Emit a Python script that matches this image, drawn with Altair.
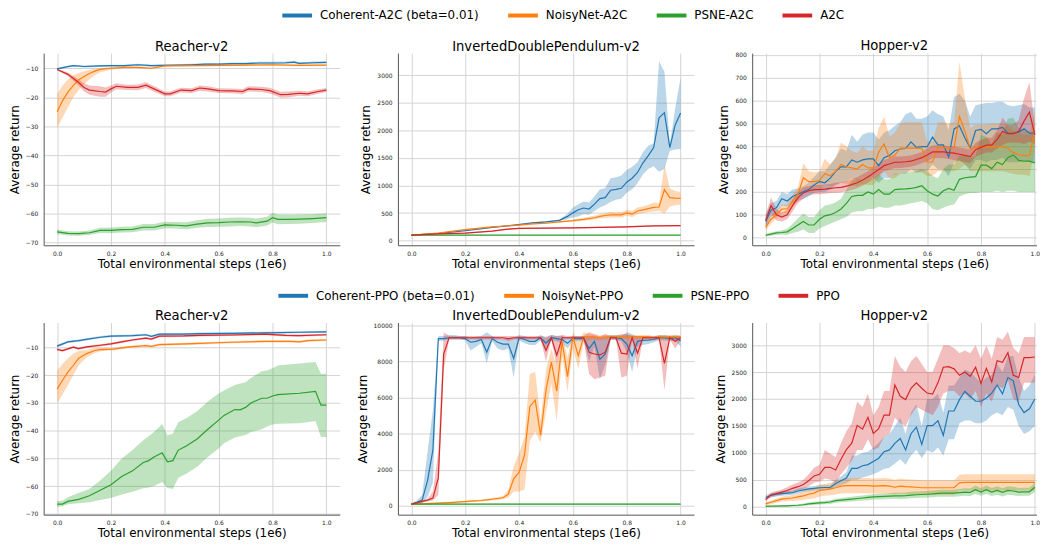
import altair as alt
import pandas as pd

COLORS = ["#1f77b4", "#ff7f0e", "#2ca02c", "#d62728"]
A2C_NAMES = ["Coherent-A2C (beta=0.01)", "NoisyNet-A2C", "PSNE-A2C", "A2C"]
PPO_NAMES = ["Coherent-PPO (beta=0.01)", "NoisyNet-PPO", "PSNE-PPO", "PPO"]
X_TICKS = [0.0, 0.2, 0.4, 0.6, 0.8, 1.0]
X_TITLE = "Total environmental steps (1e6)"
Y_TITLE = "Average return"
T51 = [round(0.02 * i, 2) for i in range(51)]

# ---------------- Row 1 : A2C ----------------
# Reacher-v2 (A2C)
RA_COH_T = [0, 0.03, 0.06, 0.1, 0.16, 0.2, 0.25, 0.3, 0.35, 0.4, 0.5, 0.55, 0.6, 0.65, 0.7, 0.75, 0.8, 0.85, 0.88, 0.9, 0.95, 1.0]
RA_COH_M = [-10.2, -9.6, -9.1, -9.4, -9.2, -9.1, -9.1, -8.8, -9.1, -9.0, -8.8, -8.6, -8.6, -8.4, -8.4, -8.2, -8.2, -8.1, -7.9, -8.3, -8.1, -8.0]
RA_COH_S = [0.3, 0.3, 0.3, 0.35, 0.35, 0.35, 0.35, 0.35, 0.35, 0.35, 0.35, 0.35, 0.35, 0.35, 0.35, 0.4, 0.4, 0.4, 0.4, 0.4, 0.4, 0.4]
RA_NOI_T = [0, 0.02, 0.04, 0.06, 0.08, 0.1, 0.12, 0.14, 0.16, 0.2, 0.25, 0.3, 0.35, 0.4, 0.5, 0.6, 0.7, 0.8, 0.9, 1.0]
RA_NOI_M = [-25.0, -21.2, -18.2, -16.0, -14.0, -12.8, -11.8, -11.0, -10.4, -10.0, -9.7, -9.7, -10.0, -9.2, -9.1, -9.0, -8.9, -8.8, -9.0, -8.9]
RA_NOI_LO = [-30.5, -27.0, -23.5, -20.0, -17.5, -15.5, -13.8, -12.4, -11.4, -10.5, -10.0, -10.0, -10.3, -9.5, -9.4, -9.3, -9.2, -9.1, -9.3, -9.2]
RA_NOI_HI = [-18.8, -16.0, -13.9, -12.4, -11.6, -11.0, -10.5, -10.2, -9.9, -9.6, -9.4, -9.4, -9.7, -8.9, -8.8, -8.7, -8.6, -8.5, -8.7, -8.6]
RA_PSN_T = [0, 0.04, 0.08, 0.12, 0.16, 0.2, 0.24, 0.28, 0.32, 0.36, 0.4, 0.44, 0.48, 0.52, 0.56, 0.6, 0.64, 0.68, 0.72, 0.74, 0.78, 0.8, 0.82, 0.86, 0.9, 0.95, 1.0]
RA_PSN_M = [-66.3, -66.8, -66.9, -66.6, -65.8, -65.8, -65.5, -65.4, -64.7, -64.7, -63.9, -64.0, -64.2, -63.6, -63.2, -63.1, -62.9, -62.8, -62.9, -63.2, -62.6, -61.4, -62.0, -62.0, -61.9, -61.7, -61.4]
RA_PSN_S = [0.8, 0.7, 0.7, 0.8, 0.9, 1.0, 1.0, 1.0, 1.1, 1.1, 1.1, 1.1, 1.2, 1.3, 1.4, 1.4, 1.5, 1.5, 1.5, 1.5, 1.5, 1.7, 1.7, 1.6, 1.6, 1.5, 1.5]
RA_BAS_T = [0, 0.04, 0.08, 0.1, 0.12, 0.16, 0.18, 0.2, 0.22, 0.26, 0.3, 0.33, 0.36, 0.4, 0.42, 0.46, 0.5, 0.53, 0.56, 0.6, 0.65, 0.69, 0.71, 0.76, 0.79, 0.83, 0.86, 0.9, 0.93, 0.97, 1.0]
RA_BAS_M = [-10.4, -12.1, -14.9, -16.6, -17.5, -18.0, -18.2, -17.1, -16.2, -16.6, -16.6, -15.8, -17.1, -18.8, -18.8, -17.5, -17.7, -16.8, -17.1, -17.7, -17.8, -18.0, -17.1, -17.3, -17.7, -19.1, -19.0, -18.6, -18.8, -18.0, -17.5]
RA_BAS_S = [0.3, 0.6, 1.0, 1.4, 1.6, 1.8, 1.6, 1.2, 1.0, 0.9, 1.0, 1.0, 1.0, 0.8, 0.8, 0.8, 0.8, 0.9, 0.9, 0.8, 0.8, 0.9, 0.9, 0.9, 1.0, 1.0, 1.0, 0.9, 0.8, 0.8, 0.7]

# InvertedDoublePendulum-v2 (A2C)
IA_COH_T = [0, 0.1, 0.2, 0.3, 0.4, 0.45, 0.5, 0.55, 0.58, 0.6, 0.62, 0.64, 0.66, 0.68, 0.7, 0.72, 0.74, 0.76, 0.78, 0.8, 0.82, 0.84, 0.86, 0.88, 0.9, 0.92, 0.94, 0.96, 0.98, 1.0]
IA_COH_M = [100, 130, 180, 240, 293, 322, 340, 369, 440, 504, 560, 592, 574, 662, 762, 779, 914, 930, 949, 1060, 1131, 1236, 1406, 1540, 1687, 2226, 2320, 1687, 2097, 2314]
IA_COH_LO = [90, 120, 170, 230, 280, 310, 328, 355, 395, 420, 440, 480, 470, 540, 600, 640, 700, 740, 760, 870, 930, 1040, 1200, 1300, 1350, 1250, 1300, 1630, 1650, 1660]
IA_COH_HI = [110, 140, 190, 250, 305, 335, 352, 385, 490, 600, 660, 710, 690, 800, 930, 950, 1130, 1150, 1180, 1280, 1340, 1420, 1600, 1720, 1760, 3250, 3060, 1750, 2400, 2950]
IA_NOI_T = [0, 0.1, 0.2, 0.3, 0.4, 0.45, 0.5, 0.55, 0.6, 0.64, 0.68, 0.7, 0.72, 0.74, 0.78, 0.8, 0.82, 0.84, 0.86, 0.88, 0.9, 0.92, 0.94, 0.96, 0.98, 1.0]
IA_NOI_M = [100, 140, 200, 250, 281, 305, 316, 340, 363, 387, 416, 440, 457, 469, 469, 504, 480, 539, 557, 580, 603, 610, 926, 779, 770, 767]
IA_NOI_LO = [90, 130, 190, 240, 270, 295, 305, 328, 345, 360, 385, 400, 410, 420, 420, 450, 430, 480, 500, 520, 530, 540, 490, 620, 640, 650]
IA_NOI_HI = [110, 150, 210, 260, 292, 315, 327, 352, 380, 415, 450, 480, 500, 520, 520, 560, 540, 600, 620, 650, 690, 680, 1370, 950, 900, 880]
IA_PSN_T = [0, 0.5, 1.0]
IA_PSN_M = [100, 100, 100]
IA_PSN_S = [6, 6, 6]
IA_BAS_T = [0, 0.1, 0.2, 0.3, 0.35, 0.4, 0.5, 0.6, 0.7, 0.8, 0.9, 1.0]
IA_BAS_M = [100, 125, 138, 175, 205, 222, 228, 232, 240, 252, 268, 272]
IA_BAS_S = [8, 10, 10, 12, 12, 12, 12, 12, 12, 12, 12, 12]

# Hopper-v2 (A2C), sampled every 0.02
HA_COH_M = [70, 120, 130, 170, 160, 180, 190, 200, 210, 230, 245, 240, 260, 290, 310, 310, 340, 330, 340, 345, 345, 315, 350, 360, 380, 388, 390, 419, 395, 398, 398, 440, 406, 406, 352, 476, 489, 437, 392, 469, 474, 455, 476, 476, 483, 457, 457, 462, 477, 457, 457]
HA_COH_LO = [40, 90, 105, 140, 135, 150, 160, 170, 180, 195, 200, 200, 210, 230, 240, 245, 260, 250, 260, 265, 260, 240, 260, 260, 275, 280, 280, 300, 285, 290, 290, 320, 300, 300, 270, 330, 340, 320, 300, 340, 340, 330, 340, 340, 350, 330, 330, 330, 340, 330, 330]
HA_COH_HI = [100, 150, 160, 200, 190, 210, 215, 225, 240, 265, 290, 290, 320, 350, 390, 380, 450, 420, 450, 460, 460, 430, 460, 470, 490, 505, 540, 550, 520, 520, 530, 558, 540, 530, 470, 615, 630, 600, 530, 580, 585, 590, 590, 595, 595, 580, 575, 580, 585, 570, 570]
HA_NOI_M = [45, 80, 100, 125, 125, 160, 190, 262, 245, 245, 250, 280, 270, 290, 320, 310, 305, 300, 320, 305, 305, 375, 410, 350, 360, 392, 392, 392, 392, 390, 331, 331, 395, 395, 390, 395, 530, 466, 388, 395, 396, 397, 398, 398, 398, 390, 372, 364, 360, 359, 469]
HA_NOI_LO = [30, 60, 85, 105, 105, 135, 160, 205, 200, 205, 210, 230, 225, 230, 240, 235, 230, 225, 235, 230, 230, 260, 290, 260, 260, 280, 285, 285, 285, 285, 270, 270, 290, 290, 290, 290, 300, 320, 290, 290, 290, 290, 290, 290, 290, 285, 280, 275, 275, 270, 380]
HA_NOI_HI = [60, 100, 115, 145, 145, 185, 220, 325, 290, 285, 290, 345, 320, 350, 415, 400, 380, 370, 400, 380, 380, 480, 530, 440, 460, 500, 505, 505, 505, 505, 420, 420, 505, 505, 500, 505, 770, 610, 480, 495, 495, 495, 500, 500, 500, 490, 470, 455, 450, 450, 560]
HA_PSN_M = [10, 15, 20, 22, 25, 40, 55, 70, 55, 55, 80, 95, 100, 110, 125, 150, 180, 185, 185, 200, 190, 210, 190, 190, 210, 212, 213, 215, 220, 227, 205, 190, 182, 205, 215, 207, 255, 262, 265, 267, 317, 317, 302, 330, 320, 350, 362, 338, 335, 335, 327]
HA_PSN_LO = [5, 8, 12, 12, 12, 20, 25, 35, 20, 20, 40, 50, 60, 70, 80, 90, 110, 115, 115, 125, 125, 135, 130, 130, 140, 140, 145, 150, 155, 160, 150, 125, 120, 130, 140, 145, 180, 190, 195, 195, 200, 200, 200, 205, 200, 205, 205, 200, 200, 200, 200]
HA_PSN_HI = [15, 22, 28, 32, 38, 60, 85, 105, 90, 90, 120, 140, 145, 155, 170, 210, 250, 255, 255, 270, 255, 280, 255, 255, 280, 280, 285, 285, 290, 300, 290, 270, 260, 300, 320, 320, 360, 360, 350, 360, 450, 440, 410, 460, 450, 520, 525, 480, 470, 465, 465]
HA_BAS_M = [75, 140, 100, 90, 100, 140, 175, 195, 205, 210, 210, 212, 215, 218, 220, 225, 232, 240, 252, 265, 282, 298, 315, 322, 330, 330, 332, 335, 342, 350, 362, 375, 376, 375, 372, 370, 365, 360, 355, 385, 395, 405, 405, 430, 465, 455, 455, 465, 510, 550, 450]
HA_BAS_S = [25, 35, 25, 20, 20, 25, 25, 25, 20, 20, 20, 20, 20, 22, 22, 22, 24, 24, 25, 25, 25, 25, 25, 25, 25, 25, 25, 25, 25, 25, 28, 28, 28, 28, 28, 30, 30, 30, 30, 30, 32, 32, 32, 40, 60, 40, 40, 50, 100, 130, 40]

# ---------------- Row 2 : PPO ----------------
# Reacher-v2 (PPO)
RP_COH_T = [0, 0.04, 0.08, 0.12, 0.16, 0.2, 0.28, 0.33, 0.35, 0.38, 0.47, 0.53, 0.65, 0.77, 0.9, 1.0]
RP_COH_M = [-9.5, -8.0, -7.5, -6.9, -6.3, -5.9, -5.7, -5.4, -6.0, -5.2, -5.2, -5.0, -4.9, -4.7, -4.5, -4.4]
RP_COH_S = [0.5, 0.4, 0.4, 0.4, 0.4, 0.4, 0.4, 0.4, 0.4, 0.4, 0.4, 0.4, 0.4, 0.4, 0.4, 0.4]
RP_NOI_T = [0, 0.02, 0.04, 0.06, 0.08, 0.11, 0.14, 0.16, 0.21, 0.26, 0.33, 0.35, 0.38, 0.48, 0.53, 0.59, 0.65, 0.77, 0.87, 0.9, 0.93, 1.0]
RP_NOI_M = [-25.0, -21.8, -18.9, -16.5, -13.9, -12.2, -11.1, -10.8, -10.6, -9.9, -9.3, -9.6, -9.0, -8.7, -8.5, -8.3, -8.1, -7.8, -7.8, -8.0, -7.5, -7.3]
RP_NOI_LO = [-30.0, -27.0, -23.6, -20.0, -16.5, -13.5, -12.0, -11.4, -11.0, -10.3, -9.7, -10.0, -9.4, -9.1, -8.9, -8.7, -8.5, -8.2, -8.2, -8.4, -7.9, -7.7]
RP_NOI_HI = [-18.3, -16.0, -13.9, -12.3, -11.3, -10.9, -10.3, -10.2, -10.2, -9.5, -8.9, -9.2, -8.6, -8.3, -8.1, -7.9, -7.7, -7.4, -7.4, -7.6, -7.1, -6.9]
RP_PSN_T = [0, 0.02, 0.04, 0.08, 0.12, 0.16, 0.2, 0.24, 0.28, 0.32, 0.34, 0.36, 0.39, 0.41, 0.43, 0.45, 0.48, 0.52, 0.56, 0.6, 0.62, 0.66, 0.68, 0.7, 0.72, 0.76, 0.78, 0.8, 0.82, 0.9, 0.96, 0.98, 1.0]
RP_PSN_M = [-66.5, -66.5, -65.5, -64.8, -63.5, -61.5, -59.5, -56.5, -54.5, -51.5, -50.8, -49.5, -48.0, -51.2, -50.8, -47.0, -45.5, -43.0, -39.5, -36.2, -34.5, -32.4, -32.5, -31.6, -30.0, -28.3, -28.3, -27.5, -27.0, -26.5, -25.8, -30.8, -30.8]
RP_PSN_LO = [-67.5, -67.3, -66.5, -66.2, -65.8, -65.0, -64.3, -63.0, -62.0, -60.8, -60.5, -60.0, -58.5, -60.7, -61.0, -57.0, -55.5, -53.0, -49.5, -46.4, -44.5, -42.5, -42.0, -41.6, -40.5, -39.5, -38.5, -37.8, -37.5, -37.3, -36.5, -42.3, -42.3]
RP_PSN_HI = [-65.5, -65.3, -64.0, -62.5, -61.0, -58.0, -54.5, -50.0, -47.0, -43.5, -42.0, -40.5, -37.6, -41.7, -41.0, -37.0, -35.5, -33.0, -29.5, -26.6, -25.5, -23.5, -23.0, -22.5, -21.0, -18.6, -18.3, -17.5, -16.5, -15.8, -15.2, -19.5, -19.5]
RP_BAS_T = [0, 0.02, 0.06, 0.08, 0.11, 0.16, 0.2, 0.25, 0.28, 0.33, 0.35, 0.38, 0.47, 0.53, 0.65, 0.77, 0.85, 0.9, 1.0]
RP_BAS_M = [-10.7, -11.1, -9.9, -10.4, -9.8, -9.2, -8.7, -7.8, -7.3, -6.6, -7.0, -5.9, -5.8, -5.6, -5.5, -5.2, -5.6, -5.7, -5.4]
RP_BAS_S = [0.4, 0.4, 0.4, 0.4, 0.4, 0.4, 0.4, 0.4, 0.4, 0.4, 0.4, 0.4, 0.4, 0.4, 0.4, 0.4, 0.4, 0.4, 0.4]

# InvertedDoublePendulum-v2 (PPO), sampled every 0.02
IP_COH_M = [100, 200, 320, 1400, 3100, 9250, 9250, 9300, 9300, 9300, 9250, 9050, 9100, 9200, 8500, 9250, 9050, 8950, 8950, 8150, 9300, 9200, 9100, 9100, 9300, 9000, 9300, 9250, 9200, 9000, 9250, 9250, 9250, 8700, 9100, 8100, 8400, 9350, 9300, 9250, 8950, 8300, 9100, 9150, 9170, 9200, 9300, 9300, 9250, 9300, 9140]
IP_COH_LO = [80, 120, 150, 500, 1300, 9100, 9150, 9200, 9200, 9200, 9150, 8600, 8800, 9000, 7900, 9100, 8700, 8600, 8700, 7100, 9150, 9000, 8900, 8900, 9150, 8700, 9150, 9100, 9000, 8700, 9100, 9100, 9100, 8000, 8800, 7000, 7800, 9200, 9150, 9100, 8500, 7400, 8800, 8900, 8950, 9050, 9150, 9150, 9100, 9150, 8800]
IP_COH_HI = [120, 300, 600, 3000, 5300, 9400, 9400, 9450, 9450, 9400, 9400, 9300, 9350, 9400, 9600, 9400, 9300, 9250, 9250, 9300, 9450, 9400, 9300, 9300, 9450, 9300, 9450, 9400, 9400, 9300, 9400, 9400, 9400, 9350, 9350, 9300, 9300, 9450, 9450, 9400, 9600, 9500, 9350, 9350, 9350, 9350, 9450, 9450, 9400, 9450, 9400]
IP_NOI_M = [100, 110, 120, 130, 140, 150, 165, 180, 200, 220, 240, 260, 280, 300, 330, 370, 410, 450, 650, 1500, 1850, 2800, 5500, 5850, 3900, 6400, 7950, 6350, 9100, 7150, 9350, 8300, 9350, 9350, 9350, 9300, 9350, 9350, 9350, 9350, 9350, 9350, 9350, 9350, 9350, 9300, 9350, 9350, 9350, 9350, 9350]
IP_NOI_LO = [60, 70, 80, 90, 100, 110, 120, 135, 150, 170, 190, 210, 230, 250, 270, 300, 330, 370, 450, 800, 800, 900, 3600, 4100, 3500, 5200, 6800, 4700, 8300, 6300, 8700, 7600, 9000, 9150, 9200, 9150, 9200, 9200, 9200, 9200, 9200, 9200, 9200, 9200, 9200, 9150, 9200, 9200, 9200, 9200, 9200]
IP_NOI_HI = [140, 150, 160, 170, 180, 190, 210, 225, 250, 270, 290, 310, 330, 350, 390, 440, 490, 540, 900, 2200, 2900, 3800, 7300, 7400, 4700, 7500, 8700, 7700, 9500, 8200, 9600, 9100, 9600, 9500, 9450, 9400, 9450, 9450, 9450, 9450, 9450, 9450, 9450, 9450, 9450, 9400, 9450, 9450, 9450, 9450, 9450]
IP_PSN_T = [0, 0.5, 1.0]
IP_PSN_M = [100, 100, 100]
IP_PSN_S = [40, 40, 40]
IP_BAS_M = [100, 170, 250, 320, 430, 1550, 8400, 9300, 9300, 9300, 9300, 9300, 9300, 9300, 9300, 9300, 9300, 9300, 9250, 9300, 9300, 9300, 9300, 9300, 9300, 8600, 9300, 8330, 9300, 9300, 9300, 9300, 9300, 8500, 8400, 8350, 8500, 9300, 9300, 8450, 8400, 9300, 8450, 9300, 9300, 9300, 9300, 7880, 9300, 9100, 9300]
IP_BAS_LO = [80, 120, 180, 250, 300, 600, 7500, 9200, 9200, 9200, 9200, 9200, 9200, 9200, 9200, 9200, 9200, 9200, 9100, 9200, 9200, 9200, 9200, 9200, 9200, 8000, 9200, 7700, 9200, 9200, 9200, 9200, 9200, 7300, 7000, 7100, 7200, 9200, 9200, 7100, 7200, 9150, 7600, 9200, 9200, 9200, 9200, 6400, 9200, 8700, 9150]
IP_BAS_HI = [120, 220, 320, 400, 800, 3000, 9600, 9400, 9400, 9400, 9400, 9400, 9400, 9400, 9400, 9400, 9400, 9400, 9400, 9400, 9400, 9400, 9400, 9400, 9400, 9350, 9450, 9400, 9450, 9400, 9400, 9400, 9400, 9600, 9500, 9400, 9500, 9400, 9400, 9500, 9500, 9400, 9400, 9400, 9400, 9400, 9400, 9350, 9400, 9350, 9400]

# Hopper-v2 (PPO), sampled every 0.02
HP_COH_M = [170, 210, 230, 240, 250, 260, 290, 310, 330, 340, 350, 355, 355, 430, 480, 530, 710, 710, 760, 780, 840, 900, 1020, 1054, 1175, 1265, 1054, 1355, 1476, 1157, 1506, 1506, 1596, 1325, 1777, 1777, 1988, 2139, 2050, 1960, 1958, 2018, 2108, 2260, 2096, 2398, 2337, 1898, 1747, 1819, 2000]
HP_COH_LO = [130, 170, 190, 200, 210, 220, 245, 265, 285, 295, 305, 310, 310, 370, 400, 430, 500, 500, 540, 570, 600, 650, 700, 720, 800, 880, 780, 950, 1050, 900, 1050, 1000, 1100, 950, 1250, 1250, 1550, 1600, 1600, 1550, 1550, 1600, 1700, 1750, 1700, 1850, 1800, 1500, 1350, 1400, 1500]
HP_COH_HI = [210, 250, 270, 280, 290, 300, 335, 355, 375, 385, 395, 400, 400, 500, 560, 640, 950, 950, 1000, 1020, 1100, 1180, 1300, 1350, 1500, 1650, 1350, 1750, 1900, 1500, 2000, 2000, 2100, 1750, 2250, 2250, 2400, 2550, 2500, 2400, 2300, 2400, 2450, 2650, 2500, 2800, 2800, 2400, 2150, 2250, 2450]
HP_NOI_M = [50, 80, 110, 140, 150, 160, 180, 200, 230, 250, 300, 310, 330, 350, 380, 390, 390, 390, 390, 390, 380, 385, 390, 380, 360, 380, 370, 365, 360, 350, 350, 350, 350, 350, 350, 350, 440, 450, 450, 450, 450, 450, 450, 450, 450, 450, 450, 450, 450, 450, 450]
HP_NOI_LO = [20, 45, 70, 95, 100, 105, 115, 125, 140, 150, 190, 200, 210, 225, 245, 250, 250, 250, 250, 250, 245, 245, 245, 240, 230, 240, 235, 230, 225, 220, 220, 220, 220, 220, 220, 220, 300, 300, 300, 300, 300, 300, 300, 300, 300, 300, 300, 300, 300, 300, 300]
HP_NOI_HI = [80, 115, 150, 185, 200, 215, 245, 275, 320, 350, 410, 420, 440, 470, 510, 520, 530, 530, 530, 530, 520, 525, 530, 520, 500, 520, 510, 505, 500, 490, 490, 490, 490, 490, 490, 490, 590, 600, 600, 600, 600, 600, 600, 600, 600, 600, 600, 600, 600, 600, 600]
HP_PSN_M = [5, 8, 10, 12, 15, 20, 25, 35, 50, 60, 70, 75, 85, 110, 120, 130, 140, 150, 160, 170, 180, 185, 190, 195, 200, 200, 205, 215, 220, 225, 230, 235, 245, 250, 250, 250, 260, 270, 265, 313, 270, 313, 270, 300, 265, 300, 290, 270, 275, 275, 360]
HP_PSN_S = [10, 10, 12, 14, 16, 18, 20, 22, 25, 28, 30, 32, 35, 38, 40, 42, 44, 46, 48, 50, 50, 52, 54, 55, 56, 57, 58, 60, 60, 60, 60, 62, 64, 65, 65, 65, 68, 70, 70, 80, 70, 80, 75, 80, 75, 80, 80, 75, 75, 75, 90]
HP_BAS_M = [130, 220, 240, 270, 300, 340, 370, 410, 480, 570, 600, 730, 730, 680, 880, 1060, 1180, 1510, 1440, 1660, 1360, 1450, 1700, 1700, 2260, 2050, 1990, 2200, 2300, 2200, 2110, 2090, 2300, 2590, 2600, 2560, 2440, 2500, 2420, 2590, 2290, 2570, 2320, 2710, 2680, 2860, 2440, 2400, 2770, 2770, 2780]
HP_BAS_LO = [100, 180, 200, 225, 250, 280, 300, 330, 380, 450, 460, 520, 500, 450, 600, 720, 850, 1050, 1050, 1250, 1050, 1100, 1300, 1350, 1650, 1550, 1500, 1700, 1850, 1800, 1750, 1700, 1850, 2100, 2150, 2150, 2050, 2100, 2000, 2150, 1850, 2100, 1950, 2250, 2200, 2350, 2000, 1950, 2300, 2300, 2300]
HP_BAS_HI = [160, 260, 290, 320, 360, 410, 450, 500, 600, 720, 780, 1050, 980, 920, 1180, 1400, 1550, 1950, 1850, 2100, 1700, 1850, 2150, 2150, 2800, 2600, 2500, 2700, 2800, 2650, 2500, 2500, 2750, 3000, 3000, 2950, 2850, 2900, 2850, 3000, 2750, 3000, 2750, 3150, 3100, 3250, 2950, 2850, 3150, 3150, 3150]

PANEL_H = 194
ROW_GAP = 78


def series(name, t, m, lo=None, hi=None, spread=None):
    if spread is not None:
        lo = [a - s for a, s in zip(m, spread)]
        hi = [a + s for a, s in zip(m, spread)]
    assert len(t) == len(m) == len(lo) == len(hi), name
    return pd.DataFrame({"method": name, "t": t, "mean": m, "lo": lo, "hi": hi})


def make_legend(lx, ly):
    return alt.Legend(orient="none", legendX=lx, legendY=ly, direction="horizontal", title=None,
                      symbolType="stroke", symbolSize=900, symbolStrokeWidth=4, symbolOpacity=1,
                      labelFontSize=12, labelColor="black", columnPadding=21, labelOffset=6,
                      padding=0, labelLimit=400)


# Row 1 uses the "color" channel (legend for A2C methods), row 2 the "stroke"
# channel (legend for PPO methods); both legends live at the top level.
LEG_A2C = make_legend(239, -55)
LEG_PPO = make_legend(235, PANEL_H + ROW_GAP - 44)


def panel(frames, names, title, ydom, yvals, xdom, width, row):
    df = pd.concat(frames, ignore_index=True)
    cscale = alt.Scale(domain=names, range=COLORS)
    x = alt.X("t:Q", scale=alt.Scale(domain=xdom, nice=False, zero=False),
              axis=alt.Axis(values=X_TICKS, format=".1f", title=X_TITLE, labelFlush=False))
    yscale = alt.Scale(domain=ydom, nice=False, zero=False)
    yaxis = alt.Axis(values=yvals, format="d", title=Y_TITLE)
    base = alt.Chart(df)
    band = base.mark_area(fillOpacity=0.3).encode(
        x=x,
        y=alt.Y("lo:Q", scale=yscale, axis=yaxis, stack=None),
        y2="hi:Q",
        fill=alt.Fill("method:N", scale=cscale, legend=None),
    )
    if row == 1:
        line_col = alt.Color("method:N", scale=cscale, legend=LEG_A2C)
        line = base.mark_line(strokeWidth=1.2).encode(
            x=x, y=alt.Y("mean:Q", scale=yscale, axis=yaxis), color=line_col)
    else:
        line_col = alt.Stroke("method:N", scale=cscale, legend=LEG_PPO)
        line = base.mark_line(strokeWidth=1.2).encode(
            x=x, y=alt.Y("mean:Q", scale=yscale, axis=yaxis), stroke=line_col)
    return alt.layer(band, line).properties(
        width=width, height=PANEL_H,
        title=alt.TitleParams(title, fontSize=13.3, fontWeight="normal", color="black",
                              offset=2, dy=13, baseline="alphabetic", anchor="middle", frame="group"),
    )


XD = [-0.05, 1.05]
XD3 = [-0.05, 1.006]

p1 = panel([series(A2C_NAMES[0], RA_COH_T, RA_COH_M, spread=RA_COH_S),
            series(A2C_NAMES[1], RA_NOI_T, RA_NOI_M, RA_NOI_LO, RA_NOI_HI),
            series(A2C_NAMES[2], RA_PSN_T, RA_PSN_M, spread=RA_PSN_S),
            series(A2C_NAMES[3], RA_BAS_T, RA_BAS_M, spread=RA_BAS_S)],
           A2C_NAMES, "Reacher-v2", [-70.9, -4.8], [-70, -60, -50, -40, -30, -20, -10], XD, 299, 1)
p2 = panel([series(A2C_NAMES[0], IA_COH_T, IA_COH_M, IA_COH_LO, IA_COH_HI),
            series(A2C_NAMES[1], IA_NOI_T, IA_NOI_M, IA_NOI_LO, IA_NOI_HI),
            series(A2C_NAMES[2], IA_PSN_T, IA_PSN_M, spread=IA_PSN_S),
            series(A2C_NAMES[3], IA_BAS_T, IA_BAS_M, spread=IA_BAS_S)],
           A2C_NAMES, "InvertedDoublePendulum-v2", [-83, 3397], [0, 500, 1000, 1500, 2000, 2500, 3000], XD, 299, 1)
p3 = panel([series(A2C_NAMES[0], T51, HA_COH_M, HA_COH_LO, HA_COH_HI),
            series(A2C_NAMES[1], T51, HA_NOI_M, HA_NOI_LO, HA_NOI_HI),
            series(A2C_NAMES[2], T51, HA_PSN_M, HA_PSN_LO, HA_PSN_HI),
            series(A2C_NAMES[3], T51, HA_BAS_M, spread=HA_BAS_S)],
           A2C_NAMES, "Hopper-v2", [-34, 808], [0, 100, 200, 300, 400, 500, 600, 700, 800], XD3, 287, 1)
p4 = panel([series(PPO_NAMES[0], RP_COH_T, RP_COH_M, spread=RP_COH_S),
            series(PPO_NAMES[1], RP_NOI_T, RP_NOI_M, RP_NOI_LO, RP_NOI_HI),
            series(PPO_NAMES[2], RP_PSN_T, RP_PSN_M, RP_PSN_LO, RP_PSN_HI),
            series(PPO_NAMES[3], RP_BAS_T, RP_BAS_M, spread=RP_BAS_S)],
           PPO_NAMES, "Reacher-v2", [-70.3, -1.0], [-70, -60, -50, -40, -30, -20, -10], XD, 299, 2)
p5 = panel([series(PPO_NAMES[0], T51, IP_COH_M, IP_COH_LO, IP_COH_HI),
            series(PPO_NAMES[1], T51, IP_NOI_M, IP_NOI_LO, IP_NOI_HI),
            series(PPO_NAMES[2], IP_PSN_T, IP_PSN_M, spread=IP_PSN_S),
            series(PPO_NAMES[3], T51, IP_BAS_M, IP_BAS_LO, IP_BAS_HI)],
           PPO_NAMES, "InvertedDoublePendulum-v2", [-484, 10140], [0, 2000, 4000, 6000, 8000, 10000], XD, 299, 2)
p6 = panel([series(PPO_NAMES[0], T51, HP_COH_M, HP_COH_LO, HP_COH_HI),
            series(PPO_NAMES[1], T51, HP_NOI_M, HP_NOI_LO, HP_NOI_HI),
            series(PPO_NAMES[2], T51, HP_PSN_M, spread=HP_PSN_S),
            series(PPO_NAMES[3], T51, HP_BAS_M, HP_BAS_LO, HP_BAS_HI)],
           PPO_NAMES, "Hopper-v2", [-150, 3421], [0, 500, 1000, 1500, 2000, 2500, 3000], XD3, 287, 2)

chart = alt.concat(p1, p2, p3, p4, p5, p6, columns=3,
                   spacing={"row": ROW_GAP, "column": 58.7}, bounds="flush").resolve_scale(
    x="independent", y="independent", color="shared", stroke="shared", fill="independent"
).resolve_legend(color="shared", stroke="shared", fill="independent").properties(
    padding={"top": -12, "left": 0, "right": 0, "bottom": 0}
).configure(
    font="DejaVu Sans"
).configure_axis(
    grid=True, gridColor="#d4d4d4", gridWidth=1, domainColor="#555555", domainWidth=1,
    ticks=False, labelFont="DejaVu Sans", labelFontSize=6, labelColor="#222222",
    titleFont="DejaVu Sans", titleFontSize=12, titleFontWeight="normal", titleColor="black",
).configure_axisX(labelPadding=5, titlePadding=2).configure_axisY(
    labelPadding=6, titlePadding=4
).configure_view(stroke=None).configure_legend(labelFont="DejaVu Sans")

chart.save("out.html", embed_options={"renderer": "svg", "actions": False})
